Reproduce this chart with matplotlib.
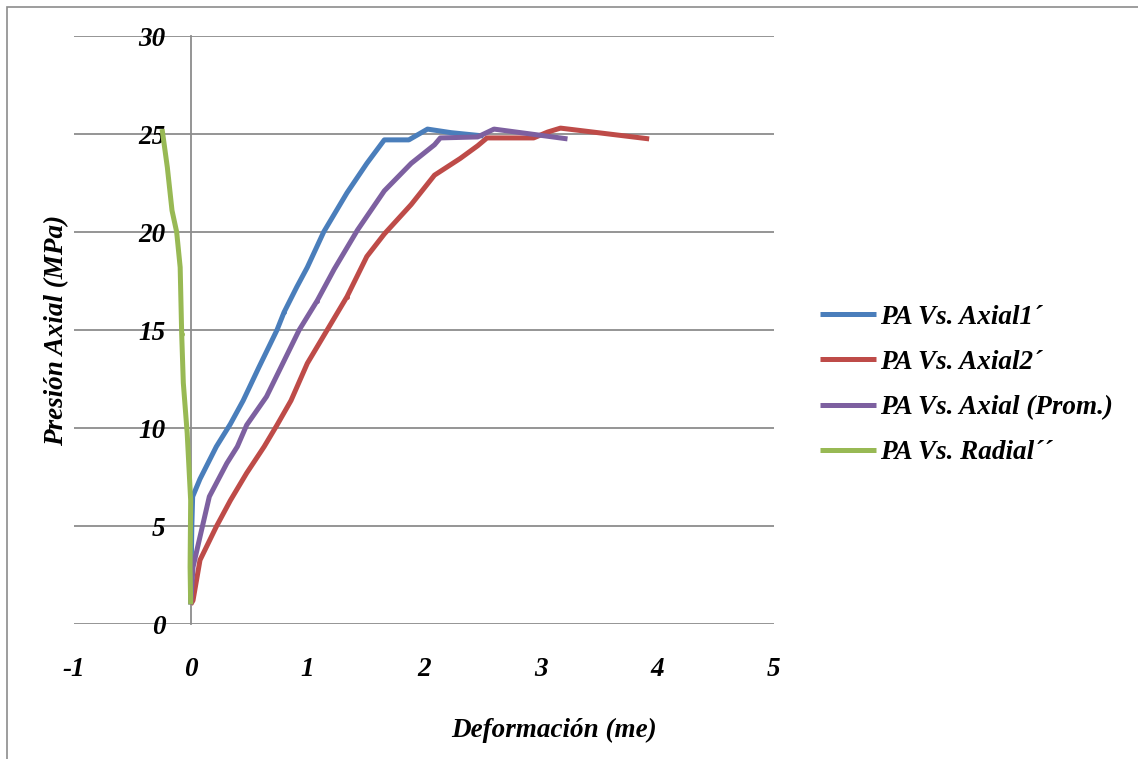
import matplotlib
matplotlib.use("Agg")
import matplotlib.pyplot as plt
from matplotlib.patches import Rectangle

# Strain (me) vs axial pressure (MPa) for each gauge
axial1_x = [0.0, 0.005, 0.01, 0.017, 0.08, 0.22, 0.34, 0.45, 0.585, 0.74, 0.80, 0.91,
            1.0, 1.14, 1.34, 1.51, 1.66, 1.87, 2.03, 2.23, 2.51]
axial1_y = [1.0, 3.0, 5.0, 6.5, 7.4, 9.05, 10.2, 11.4, 13.1, 15.0, 15.9, 17.2,
            18.2, 20.0, 22.0, 23.5, 24.7, 24.7, 25.25, 25.07, 24.9]

axial2_x = [0.0, 0.02, 0.08, 0.22, 0.34, 0.48, 0.63, 0.74, 0.86, 1.0, 1.17, 1.34,
            1.51, 1.66, 1.89, 2.09, 2.31, 2.46, 2.54, 2.94, 3.06, 3.17, 3.93]
axial2_y = [1.0, 1.2, 3.26, 4.97, 6.3, 7.7, 9.05, 10.15, 11.4, 13.3, 15.0, 16.7,
            18.75, 19.9, 21.4, 22.9, 23.75, 24.4, 24.8, 24.8, 25.1, 25.3, 24.75]

prom_x = [0.0, 0.02, 0.08, 0.16, 0.31, 0.40, 0.48, 0.65, 0.93, 1.085, 1.23, 1.43,
          1.66, 1.89, 2.09, 2.14, 2.46, 2.60, 3.23]
prom_y = [1.0, 2.9, 4.45, 6.5, 8.2, 9.05, 10.15, 11.6, 15.0, 16.5, 18.1, 20.1,
          22.1, 23.5, 24.45, 24.8, 24.85, 25.25, 24.75]

radial_x = [0.0, -0.005, 0.0, -0.03, -0.063, -0.077, -0.09, -0.12, -0.16, -0.20, -0.245]
radial_y = [1.0, 2.9, 6.3, 9.75, 12.3, 14.8, 18.2, 20.0, 21.1, 23.3, 25.25]

series_labels = ["PA Vs. Axial1\u00b4", "PA Vs. Axial2\u00b4",
                 "PA Vs. Axial (Prom.)", "PA Vs. Radial\u00b4\u00b4"]
x_ticks = [-1, 0, 1, 2, 3, 4, 5]
y_ticks = [0, 5, 10, 15, 20, 25, 30]

colors = ["#4A7EBB", "#BE4B48", "#7D60A0", "#98B954"]
font = dict(family="Liberation Serif", weight="bold", style="italic")
FS = 19.5

fig = plt.figure(figsize=(11.38, 7.59), dpi=100)
ax = fig.add_axes([74 / 1138, 1 - 624 / 759, 700 / 1138, 588 / 759])

series = [(axial1_x, axial1_y), (axial2_x, axial2_y), (prom_x, prom_y), (radial_x, radial_y)]
for (xs, ys), c, lab in zip(series, colors, series_labels):
    ax.plot(xs, ys, color=c, lw=3.6, label=lab, solid_joinstyle="round",
            solid_capstyle="butt", marker="o", markersize=2.5, markevery=[len(xs) // 2],
            zorder=3)

ax.set_xlim(-1, 5)
ax.set_ylim(0, 30)
ax.set_xticks(x_ticks)
ax.set_yticks(y_ticks)
ax.set_xticklabels([str(v) for v in x_ticks])
ax.set_yticklabels([str(v) for v in y_ticks])
ax.yaxis.grid(True, color="#8C8C8C", lw=1.3)
ax.xaxis.grid(False)
ax.set_axisbelow(True)

for s in ["top", "right", "bottom"]:
    ax.spines[s].set_visible(False)
ax.spines["left"].set_position(("data", 0))
ax.spines["left"].set_color("#8C8C8C")
ax.spines["left"].set_linewidth(1.3)
ax.spines["left"].set_zorder(1)

ax.tick_params(axis="both", length=0)
ax.tick_params(axis="x", pad=24)
ax.tick_params(axis="y", pad=18)
for t in ax.get_xticklabels() + ax.get_yticklabels():
    t.set_fontfamily(font["family"])
    t.set_fontweight("bold")
    t.set_fontstyle("italic")
    t.set_fontsize(FS)

fig.text(57 / 1138, 1 - 330 / 759, "Presión Axial (MPa)", rotation=90,
         ha="center", va="center", fontsize=FS, **font)
fig.text(554 / 1138, 1 - 730 / 759, "Deformación (me)",
         ha="center", va="center", fontsize=FS, **font)

leg = ax.legend(loc="center left", bbox_to_anchor=(806 / 1138, 1 - 385 / 759),
                bbox_transform=fig.transFigure, frameon=False, borderpad=0,
                handlelength=2.1, handletextpad=0.15, labelspacing=0.74,
                prop=dict(size=FS, **font))

# outer chart frame
fig.patches.append(Rectangle((7 / 1138, -0.1), 1.2, 1 - 7 / 759 + 0.1,
                             transform=fig.transFigure, fill=False,
                             edgecolor="#8C8C8C", lw=1.2))

fig.savefig("out.png", dpi=100)
